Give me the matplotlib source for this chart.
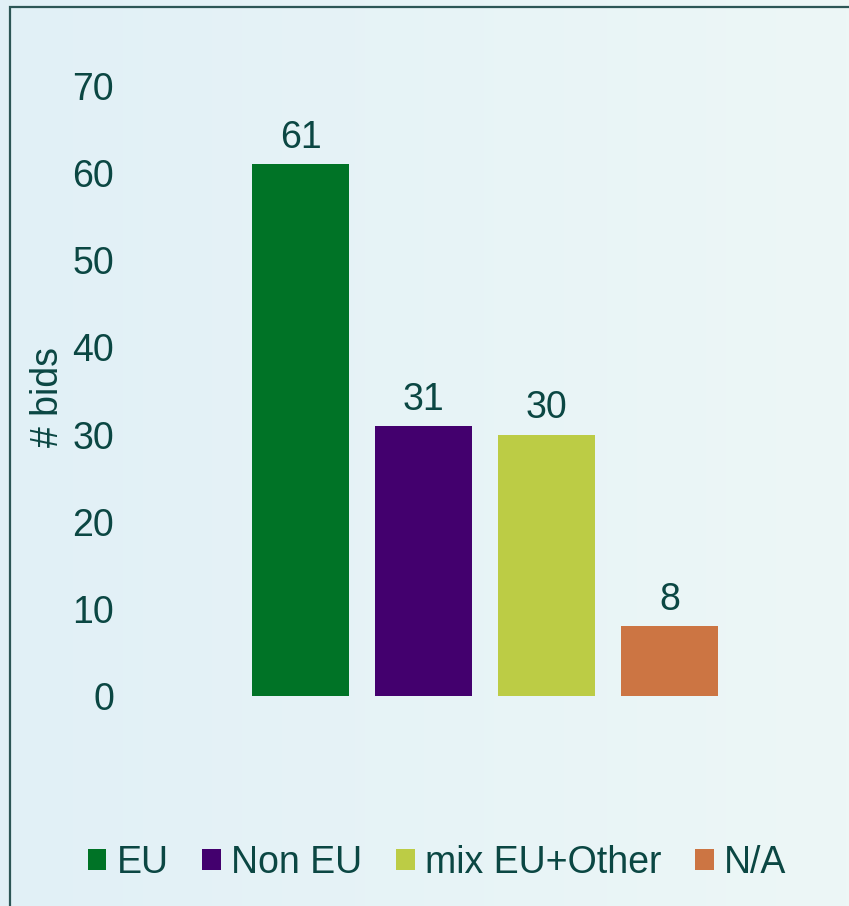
"""Bids by origin: bar chart with gradient background and bottom legend."""

import matplotlib

matplotlib.use("Agg")

import matplotlib.pyplot as plt
import numpy as np
from matplotlib.patches import Patch, Rectangle

categories = ["EU", "Non EU", "mix EU+Other", "N/A"]
bids = [61, 31, 30, 8]
colors = ["#007326", "#43006E", "#BCCC45", "#CC7543"]
y_ticks = [0, 10, 20, 30, 40, 50, 60, 70]

TEXT = "#0B4743"
W, H = 849, 906

plt.rcParams["font.family"] = ["Liberation Sans", "DejaVu Sans"]

fig = plt.figure(figsize=(W / 100, H / 100), dpi=100)

# soft light-blue gradient background
bg = fig.add_axes([0, 0, 1, 1], zorder=-10)
left = np.array([225, 240, 247]) / 255
right = np.array([237, 247, 246]) / 255
t = np.linspace(0, 1, 256)[None, :, None]
bg.imshow(left + (right - left) * t, aspect="auto", extent=[0, 1, 0, 1])
bg.set_axis_off()

# frame: only top and left edges are visible
fig.patches.append(Rectangle((10 / W, -0.1), 1.2, (H - 7) / H + 0.1,
                             transform=fig.transFigure, fill=False,
                             edgecolor="#2C5656", linewidth=1.6))

ax = fig.add_axes([239 / W, (H - 696) / H, 492 / W, 610 / H])
ax.set_facecolor("none")
x = np.arange(len(categories))
bars = ax.bar(x, bids, width=0.79, color=colors)
ax.bar_label(bars, padding=6, fontsize=27, color=TEXT)

ax.set_xlim(-0.5, 3.5)
ax.set_ylim(0, 70)
ax.set_yticks(y_ticks)
ax.set_xticks([])
ax.tick_params(axis="y", length=0, pad=90, labelsize=27, labelcolor=TEXT)
for side in ax.spines.values():
    side.set_visible(False)
ax.set_ylabel("# bids", fontsize=27, color=TEXT)
ax.yaxis.set_label_coords(-0.352, 0.49)

handles = [Patch(facecolor=c, edgecolor="none") for c in colors]
fig.legend(handles, categories, loc="center", bbox_to_anchor=(437 / W, (H - 863) / H),
           ncol=4, frameon=False, handlelength=0.5, handleheight=0.5,
           handletextpad=0.27, columnspacing=0.9, fontsize=27,
           labelcolor=TEXT)

fig.savefig("out.png", dpi=100)
